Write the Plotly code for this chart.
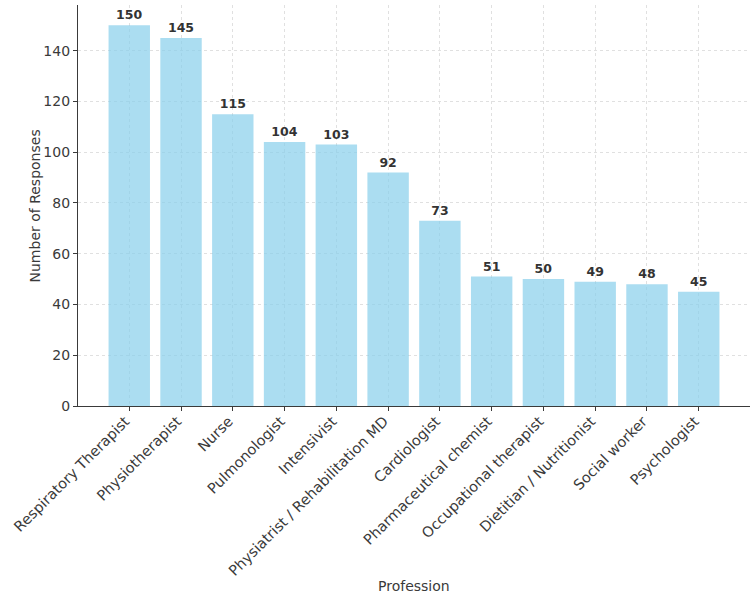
import plotly.graph_objects as go

# survey responses per profession
professions = [
    "Respiratory Therapist", "Physiotherapist", "Nurse", "Pulmonologist",
    "Intensivist", "Physiatrist / Rehabilitation MD", "Cardiologist",
    "Pharmaceutical chemist", "Occupational therapist",
    "Dietitian / Nutritionist", "Social worker", "Psychologist",
]
responses = [150, 145, 115, 104, 103, 92, 73, 51, 50, 49, 48, 45]

font_family = "DejaVu Sans"
text_color = "#3a3a3a"
grid = dict(showgrid=True, gridcolor="#e0e0e0", griddash="3px,3px", gridwidth=1)

fig = go.Figure(
    go.Bar(
        x=professions,
        y=responses,
        width=0.8,
        marker=dict(color="rgba(135,206,235,0.7)", line=dict(width=0)),
        text=responses,
        texttemplate="<b>%{text}</b>",
        textposition="outside",
        textfont=dict(family=font_family, size=12.5, color="#333333"),
        cliponaxis=False,
    )
)

fig.update_layout(
    width=753,
    height=600,
    paper_bgcolor="white",
    plot_bgcolor="white",
    margin=dict(l=78, r=3, t=5, b=194),
    font=dict(family=font_family, size=14, color=text_color),
    showlegend=False,
)

fig.update_xaxes(
    range=[-0.99, 11.99],
    tickangle=-45,
    ticks="outside",
    ticklen=4,
    tickcolor=text_color,
    showline=True,
    linecolor=text_color,
    linewidth=1.3,
    automargin=False,
    ticklabelstandoff=-4,
    ticklabelshift=-4,
    tickfont=dict(size=14.5, color=text_color),
    **grid,
)

fig.update_yaxes(
    range=[0, 158],
    dtick=20,
    ticks="outside",
    ticklen=4,
    tickcolor=text_color,
    showline=True,
    linecolor=text_color,
    linewidth=1.3,
    zeroline=False,
    automargin=False,
    tickfont=dict(size=14, color=text_color),
    **grid,
)

# axis titles placed as in the reference
fig.add_annotation(text="Profession", xref="paper", yref="paper", x=0.5, y=-0.45,
                   xanchor="center", yanchor="middle",
                   showarrow=False, font=dict(size=14, color=text_color))
fig.add_annotation(text="Number of Responses", xref="paper", yref="paper", x=-0.064, y=0.5,
                   xanchor="center", yanchor="middle",
                   textangle=-90, showarrow=False, font=dict(size=14, color=text_color))

# drop the default page margin so the figure sits at the window's corner
fig.write_html("out.html", config={"displayModeBar": False},
               post_script="document.body.style.margin='0';")
